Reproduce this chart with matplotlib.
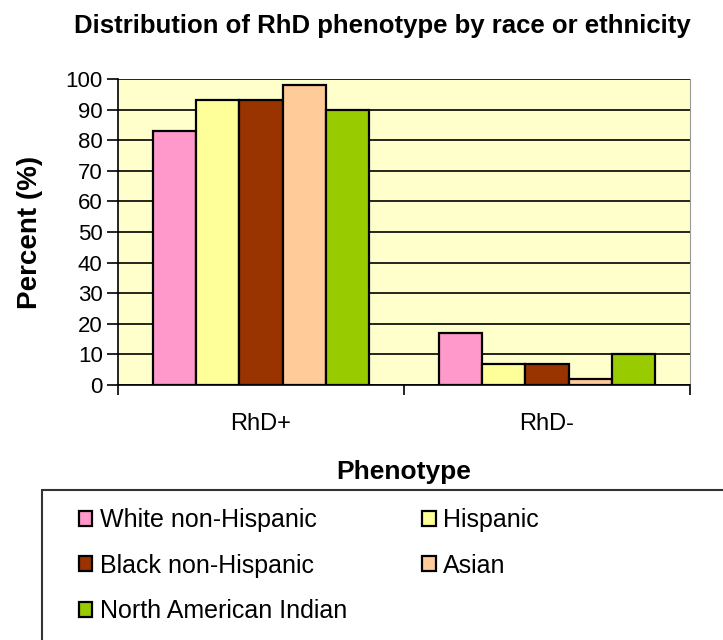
import numpy as np
import matplotlib
matplotlib.use("Agg")
import matplotlib.pyplot as plt
from matplotlib.patches import Rectangle

plt.rcParams['font.family'] = ['Liberation Sans', 'DejaVu Sans']

# Data
phenotypes = ["RhD+", "RhD-"]
groups = ["White non-Hispanic", "Hispanic", "Black non-Hispanic", "Asian", "North American Indian"]
white = [83, 17]
hispanic = [93, 7]
black = [93, 7]
asian = [98, 2]
indian = [90, 10]
values = [white, hispanic, black, asian, indian]
colors = ["#FF99CC", "#FFFF99", "#993300", "#FFCC99", "#99CC00"]

fig = plt.figure(figsize=(7.23, 6.4), dpi=100)
ax = fig.add_axes([118/723, 1 - 385/640, (690 - 118)/723, (385 - 79)/640])
ax.set_facecolor("#FFFFCC")

x = np.arange(len(phenotypes))
w = 0.151
for i, (g, v, c) in enumerate(zip(groups, values, colors)):
    ax.bar(x + (i - 2) * w, v, w, color=c, edgecolor="black", linewidth=1.6, label=g, zorder=3)

ax.set_xlim(-0.5, 1.5)
ax.set_ylim(0, 100)
ax.set_yticks(np.arange(0, 101, 10))
ax.yaxis.grid(True, color="black", linewidth=1.2, zorder=1)
ax.set_axisbelow(True)
ax.set_xticks([-0.5, 0.5, 1.5])
ax.set_xticklabels([])
ax.set_xticks(x, minor=True)
ax.set_xticklabels(phenotypes, minor=True, fontsize=17)
ax.tick_params(axis="x", which="minor", length=0, pad=20)
ax.tick_params(axis="x", which="major", length=7, width=1.2)
ax.tick_params(axis="y", length=8, width=1.2, labelsize=16, pad=3)

ax.spines["top"].set_visible(False)
ax.spines["right"].set_color("#999999")
ax.spines["left"].set_linewidth(1.2)
ax.spines["bottom"].set_linewidth(1.2)

ax.set_ylabel("Percent (%)", fontsize=20, fontweight="bold", labelpad=16)
ax.set_xlabel("Phenotype", fontsize=19, fontweight="bold", labelpad=18)
fig.text(382/723, 1 - 26/640, "Distribution of RhD phenotype by race or ethnicity",
         ha="center", va="center", fontsize=18.5, fontweight="bold")

# legend box, runs off the right and bottom edges
fig.patches.append(Rectangle((42/723, -0.05), 1.0, (1 - 490/640) + 0.05,
                             transform=fig.transFigure, fill=False,
                             edgecolor="#333333", linewidth=1.5))
handles, labels = ax.get_legend_handles_labels()
order = [0, 2, 4, 1, 3]
leg = fig.legend([handles[k] for k in order], [labels[k] for k in order],
                 loc="upper left", bbox_to_anchor=(56/723, 1 - 486/640), ncol=2,
                 frameon=False, fontsize=18, handlelength=0.55, handleheight=0.55,
                 handletextpad=0.3, columnspacing=3.0, labelspacing=0.85)

fig.savefig("out.png", dpi=100)
